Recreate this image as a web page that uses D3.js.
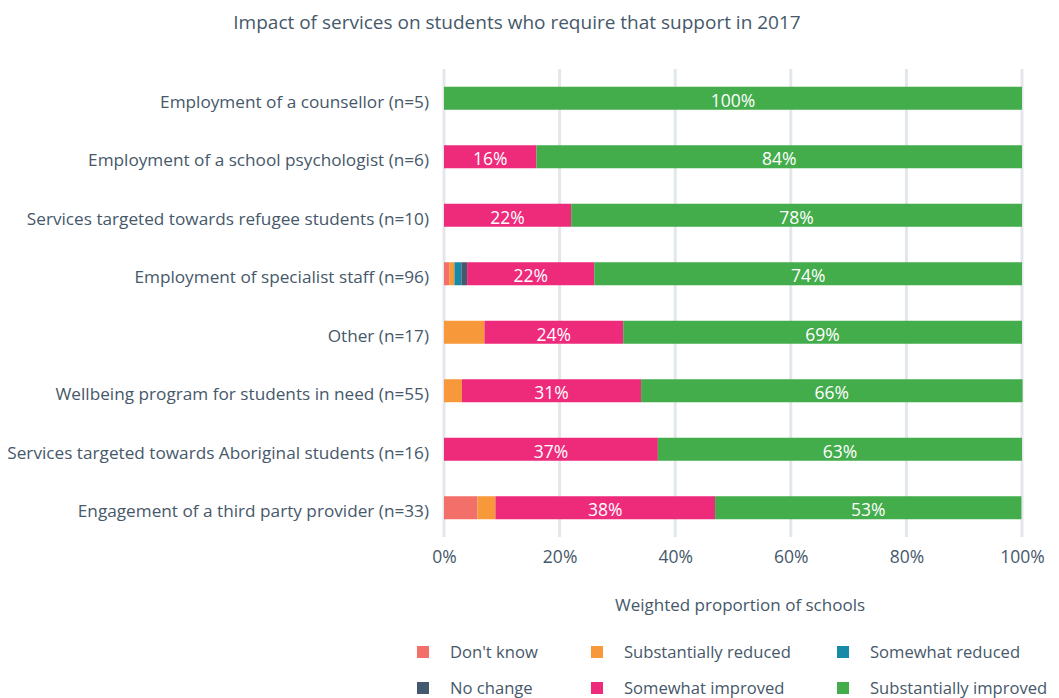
<!DOCTYPE html>
<html>
<head>
<meta charset="utf-8">
<script src="https://cdn.jsdelivr.net/npm/d3@7"></script>
<style>
  html, body { margin: 0; padding: 0; background: #ffffff; }
  svg text { font-family: "Open Sans", sans-serif; }
</style>
</head>
<body>
<svg id="chart" width="1059" height="698"></svg>
<script>
// Services and the number of schools answering for each
const categories = [
  "Employment of a counsellor (n=5)",
  "Employment of a school psychologist (n=6)",
  "Services targeted towards refugee students (n=10)",
  "Employment of specialist staff (n=96)",
  "Other (n=17)",
  "Wellbeing program for students in need (n=55)",
  "Services targeted towards Aboriginal students (n=16)",
  "Engagement of a third party provider (n=33)"
];

// Response levels, stacked left to right
const seriesNames = [
  "Don't know",
  "Substantially reduced",
  "Somewhat reduced",
  "No change",
  "Somewhat improved",
  "Substantially improved"
];

// Weighted proportion of schools (%) for each response level, one entry per service
const dontKnow              = [0, 0, 0, 0.9, 0, 0, 0, 5.8];
const substantiallyReduced  = [0, 0, 0, 0.9, 7.0, 3.1, 0, 3.1];
const somewhatReduced       = [0, 0, 0, 1.2, 0, 0, 0, 0];
const noChange              = [0, 0, 0, 1.0, 0, 0, 0, 0];
const somewhatImproved      = [0, 16, 22, 22, 24, 31, 37, 38];
const substantiallyImproved = [100, 84, 78, 74, 69, 66, 63, 53];

const seriesColors = ["#f26f6a", "#f7983a", "#1889a6", "#44596d", "#ee2a7b", "#43ac4b"];

const xTicks = [0, 20, 40, 60, 80, 100];
const tickLabels = ["0%", "20%", "40%", "60%", "80%", "100%"];

const title = "Impact of services on students who require that support in 2017";
const xAxisTitle = "Weighted proportion of schools";

// Values below this share are too narrow to carry a label
const labelMin = 10;

const seriesValues = [dontKnow, substantiallyReduced, somewhatReduced, noChange, somewhatImproved, substantiallyImproved];

const rows = categories.map((c, i) => {
  const r = { category: c };
  seriesNames.forEach((s, k) => { r[s] = seriesValues[k][i]; });
  return r;
});

const textColor = "#46586a";
const gridColor = "#e3e7eb";

const svg = d3.select("#chart");

const margin = { left: 444, right: 37 };
const width = 1059;
const plotTop = 69, plotBottom = 537;

const x = d3.scaleLinear().domain([0, 100]).range([margin.left, width - margin.right]);
const y = d3.scaleBand()
  .domain(categories)
  .range([plotTop, plotBottom])
  .paddingInner(0.6)
  .paddingOuter(0.3);

// Title
svg.append("text")
  .attr("x", 517)
  .attr("y", 29)
  .attr("text-anchor", "middle")
  .attr("fill", textColor)
  .style("font-size", "19px")
  .text(title);

// Vertical gridlines
svg.append("g")
  .selectAll("line")
  .data(xTicks)
  .join("line")
  .attr("x1", d => x(d))
  .attr("x2", d => x(d))
  .attr("y1", plotTop)
  .attr("y2", plotBottom)
  .attr("stroke", gridColor)
  .attr("stroke-width", 3);

// Stacked bars
const stack = d3.stack().keys(seriesNames);
const layers = stack(rows);

const barH = 23;
const layerG = svg.append("g")
  .selectAll("g")
  .data(layers)
  .join("g")
  .attr("fill", (d, i) => seriesColors[i]);

layerG.selectAll("rect")
  .data(d => d.filter(p => p[1] - p[0] > 0))
  .join("rect")
  .attr("x", d => x(d[0]))
  .attr("width", d => x(d[1]) - x(d[0]))
  .attr("y", d => y(d.data.category) + y.bandwidth() / 2 - barH / 2)
  .attr("height", barH);

// Value labels inside bars
layerG.selectAll("text")
  .data(d => d.filter(p => p[1] - p[0] >= labelMin).map(p => ({ p, key: d.key })))
  .join("text")
  .attr("x", d => (x(d.p[0]) + x(d.p[1])) / 2)
  .attr("y", d => y(d.p.data.category) + y.bandwidth() / 2)
  .attr("dy", "0.48em")
  .attr("text-anchor", "middle")
  .attr("fill", "#ffffff")
  .style("font-size", "17.5px")
  .text(d => Math.round(d.p.data[d.key]) + "%");

// Category labels
const yAxis = d3.axisLeft(y).tickSize(0).tickPadding(15);
const yg = svg.append("g")
  .attr("transform", `translate(${margin.left},0)`)
  .call(yAxis);
yg.select(".domain").remove();
yg.selectAll("text")
  .attr("fill", textColor)
  .attr("dy", "0.55em")
  .style("font-size", "17.2px");

// Percentage axis
const xAxis = d3.axisBottom(x).tickValues(xTicks).tickFormat((d, i) => tickLabels[i]).tickSize(0).tickPadding(12);
const xg = svg.append("g")
  .attr("transform", "translate(0,539)")
  .call(xAxis);
xg.select(".domain").remove();
xg.selectAll("text")
  .attr("fill", textColor)
  .style("font-size", "17.5px");

// Axis title
svg.append("text")
  .attr("x", 740)
  .attr("y", 611)
  .attr("text-anchor", "middle")
  .attr("fill", textColor)
  .style("font-size", "17px")
  .text(xAxisTitle);

// Legend, three columns by two rows
const legendCols = [417, 591, 837];
const legendRows = [652, 688];
const legend = svg.append("g")
  .selectAll("g")
  .data(seriesNames)
  .join("g")
  .attr("transform", (d, i) => `translate(${legendCols[i % 3]},${legendRows[Math.floor(i / 3)]})`);

legend.append("rect")
  .attr("x", 0)
  .attr("y", -6)
  .attr("width", 12)
  .attr("height", 12)
  .attr("fill", (d, i) => seriesColors[i]);

legend.append("text")
  .attr("x", 33)
  .attr("y", 0)
  .attr("dy", "0.35em")
  .attr("fill", textColor)
  .style("font-size", "16.6px")
  .text(d => d);
</script>
</body>
</html>
